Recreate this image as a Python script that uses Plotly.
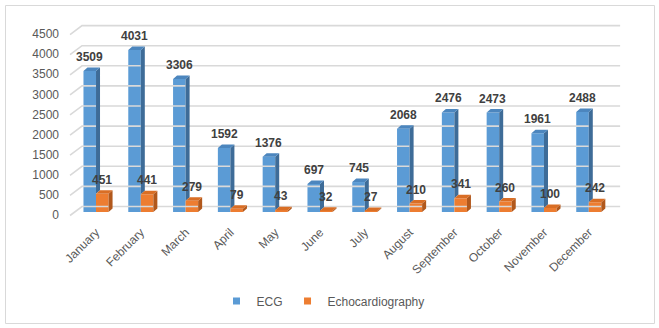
import plotly.graph_objects as go

months = ["January", "February", "March", "April", "May", "June", "July",
          "August", "September", "October", "November", "December"]
ecg = [3509, 4031, 3306, 1592, 1376, 697, 745, 2068, 2476, 2473, 1961, 2488]
echo = [451, 441, 279, 79, 43, 32, 27, 210, 341, 260, 100, 242]
y_ticks = [0, 500, 1000, 1500, 2000, 2500, 3000, 3500, 4000, 4500]

W, H = 659, 328
ML, MR, MT, MB = 60, 29, 15, 106
X0, X1 = -0.804, 11.92
Y0, Y1 = -249, 4900
pxx = (W - ML - MR) / (X1 - X0)
pxy = (H - MT - MB) / (Y1 - Y0)

bw = 0.28          # bar front width (category units)
dx = 4 / pxx        # depth offset in x
dy = 3.5 / pxy      # depth offset in y

BLUE, BLUE_SIDE, BLUE_TOP = "#5B9BD5", "#3E6C98", "#4C86BE"
OR, OR_SIDE, OR_TOP = "#ED7D31", "#B1581C", "#D96E25"
GRID = "#D9D9D9"
TXT = "#595959"

fig = go.Figure()

# back wall gridlines with perspective edge
gx, gy = [], []
for v in y_ticks:
    gx += [-0.58, -0.3125, 11.70, None]
    gy += [v - dy, v + 5.5 / pxy, v + 5.5 / pxy, None]
fig.add_trace(go.Scatter(x=gx, y=gy, mode="lines", line=dict(color=GRID, width=1.6),
                         hoverinfo="skip", showlegend=False))

xs = list(range(len(months)))

# fronts
fig.add_trace(go.Bar(x=xs, y=ecg, width=bw, offset=-bw, marker=dict(color=BLUE, line=dict(width=0)),
                     showlegend=False, name="ECG"))
fig.add_trace(go.Bar(x=xs, y=echo, width=bw, offset=0, marker=dict(color=OR, line=dict(width=0)),
                     showlegend=False, name="Echocardiography"))

def poly(pts_list):
    px_, py_ = [], []
    for pts in pts_list:
        for (a, b) in pts:
            px_.append(a); py_.append(b)
        px_.append(pts[0][0]); py_.append(pts[0][1])
        px_.append(None); py_.append(None)
    return px_, py_

side_b, top_b, side_o, top_o = [], [], [], []
for i, (b, o) in enumerate(zip(ecg, echo)):
    xl, xr = i - bw, i
    side_b.append([(xr, o), (xr + dx, o + dy), (xr + dx, b + dy), (xr, b)])
    top_b.append([(xl, b), (xr, b), (xr + dx, b + dy), (xl + dx, b + dy)])
    xl2, xr2 = i, i + bw
    side_o.append([(xr2, 0), (xr2 + dx, dy), (xr2 + dx, o + dy), (xr2, o)])
    top_o.append([(xl2, o), (xr2, o), (xr2 + dx, o + dy), (xl2 + dx, o + dy)])

for pts, col in [(side_b, BLUE_SIDE), (top_b, BLUE_TOP), (side_o, OR_SIDE), (top_o, OR_TOP)]:
    px_, py_ = poly(pts)
    fig.add_trace(go.Scatter(x=px_, y=py_, mode="lines", fill="toself", fillcolor=col,
                             line=dict(width=0, color=col), hoverinfo="skip", showlegend=False))

# legend entries
fig.add_trace(go.Scatter(x=[None], y=[None], mode="markers", name="ECG",
                         marker=dict(symbol="square", size=7, color=BLUE)))
fig.add_trace(go.Scatter(x=[None], y=[None], mode="markers", name="Echocardiography",
                         marker=dict(symbol="square", size=7, color=OR)))

# data labels
for i, (b, o) in enumerate(zip(ecg, echo)):
    fig.add_annotation(x=i - bw / 2, y=b, text=str(b), showarrow=False, yshift=14,
                       font=dict(family="Liberation Sans", size=12, color="#404040", weight="bold"))
    fig.add_annotation(x=i + bw / 2, y=o, text=str(o), showarrow=False, yshift=14,
                       font=dict(family="Liberation Sans", size=12, color="#404040", weight="bold"))

PW, PH = W - ML - MR, H - MT - MB
# chart border
fig.add_shape(type="rect", xref="paper", yref="paper",
              x0=(5.5 - ML) / PW, x1=(654.5 - ML) / PW,
              y0=1 - (323.5 - MT) / PH, y1=1 - (5.5 - MT) / PH,
              line=dict(color=GRID, width=1))

fig.update_layout(
    width=W, height=H,
    margin=dict(l=ML, r=MR, t=MT, b=MB, autoexpand=False),
    paper_bgcolor="white", plot_bgcolor="white",
    barmode="overlay",
    font=dict(family="Liberation Sans", size=12, color=TXT),
    xaxis=dict(range=[X0, X1], tickvals=xs, ticktext=months, tickangle=-45,
               showgrid=False, zeroline=False, showline=False, ticks="",
               tickfont=dict(size=12, color=TXT), fixedrange=True, automargin=False),
    yaxis=dict(range=[Y0, Y1], tickvals=y_ticks, showgrid=False, zeroline=False,
               showline=False, ticks="", tickfont=dict(size=12, color=TXT),
               ticklabelshift=3, fixedrange=True, automargin=False),
    legend=dict(orientation="h", x=(323 - ML) / PW, xanchor="center", y=1 - (301 - MT) / PH,
                yanchor="middle", font=dict(size=12, color=TXT), itemwidth=30,
                bgcolor="rgba(0,0,0,0)"),
    showlegend=True,
)

fig.write_html("out.html")
